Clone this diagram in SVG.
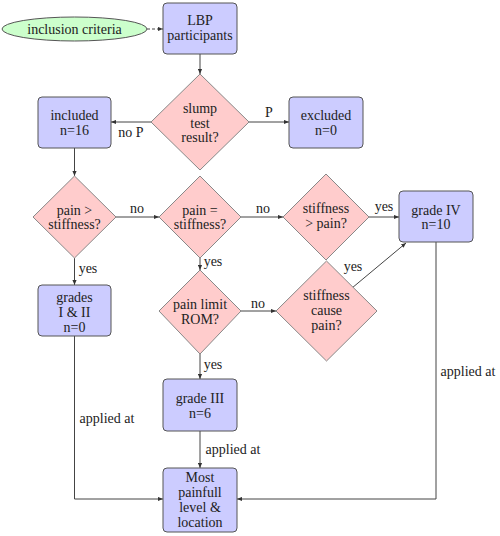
<svg xmlns="http://www.w3.org/2000/svg" width="500" height="536" viewBox="0 0 500 536">
<defs>
<marker id="arr" viewBox="0 0 6 6" refX="6" refY="3" markerWidth="5" markerHeight="5" orient="auto" markerUnits="userSpaceOnUse">
<path d="M0,0.5 L6,3 L0,5.5 z" fill="#333"/>
</marker>
</defs>
<style>
text{font-family:'Liberation Serif','DejaVu Serif',serif;font-size:14px;fill:#222;text-anchor:middle}
.box{fill:#ccccff;stroke:#555;stroke-width:1}
.dia{fill:#ffcccc;stroke:#888;stroke-width:1}
.ell{fill:#ccffcc;stroke:#555;stroke-width:1}
.ar{fill:none;stroke:#444;stroke-width:1;marker-end:url(#arr)}
</style>
<g font-family="Liberation Serif, DejaVu Serif, serif">
<g id="connectors">
<path class="ar" d="M147,29 L163,29" stroke-dasharray="3,2"/>
<path class="ar" d="M200,54 L200,74"/>
<path class="ar" d="M151,122 L111,122"/>
<path class="ar" d="M249,122 L289,122"/>
<path class="ar" d="M74.5,148 L74.5,176"/>
<path class="ar" d="M116,217 L159,217"/>
<path class="ar" d="M241,217 L283,217"/>
<path class="ar" d="M369,217 L399,217"/>
<path class="ar" d="M200,258 L200,270"/>
<path class="ar" d="M241,311 L276,311"/>
<path class="ar" d="M352,288 L406,243"/>
<path class="ar" d="M74.5,258 L74.5,285"/>
<path class="ar" d="M200,354 L200,379"/>
<path class="ar" d="M200,431 L200,468"/>
<path class="ar" d="M74.5,336 L74.5,499 L163,499"/>
<path class="ar" d="M436,242 L436,499 L237,499"/>
<text x="131" y="137">no P</text>
<text x="269" y="117">P</text>
<text x="137" y="213">no</text>
<text x="263" y="213">no</text>
<text x="384" y="211">yes</text>
<text x="88" y="273">yes</text>
<text x="213" y="266">yes</text>
<text x="258" y="308">no</text>
<text x="353" y="271">yes</text>
<text x="213" y="369">yes</text>
<text x="107" y="423">applied at</text>
<text x="233" y="454">applied at</text>
<text x="468" y="376">applied at</text>
</g>
<g id="inclusion">
<ellipse class="ell" cx="74.5" cy="29" rx="72.5" ry="12"/>
<text x="74.5" y="34">inclusion criteria</text>
</g>
<g id="lbp">
<rect class="box" x="163" y="3" width="74" height="51" rx="4"/>
<text x="200" y="25">LBP</text>
<text x="200" y="40">participants</text>
</g>
<g id="slump">
<polygon class="dia" points="200,74 249,122 200,170 151,122"/>
<text x="200" y="113">slump</text>
<text x="200" y="128">test</text>
<text x="200" y="142">result?</text>
</g>
<g id="included">
<rect class="box" x="38" y="97" width="73" height="51" rx="4"/>
<text x="74.5" y="120">included</text>
<text x="74.5" y="135">n=16</text>
</g>
<g id="excluded">
<rect class="box" x="289" y="97" width="74" height="51" rx="4"/>
<text x="326" y="120">excluded</text>
<text x="326" y="135">n=0</text>
</g>
<g id="pain-gt">
<polygon class="dia" points="74.5,176 116,217 74.5,258 33,217"/>
<text x="74.5" y="215">pain &gt;</text>
<text x="74.5" y="229">stiffness?</text>
</g>
<g id="pain-eq">
<polygon class="dia" points="200,176 241,217 200,258 159,217"/>
<text x="200" y="215">pain =</text>
<text x="200" y="229">stiffness?</text>
</g>
<g id="stiff-gt">
<polygon class="dia" points="326,174 369,217 326,260 283,217"/>
<text x="326" y="213">stiffness</text>
<text x="326" y="228">&gt; pain?</text>
</g>
<g id="grade4">
<rect class="box" x="399" y="191" width="74" height="51" rx="4"/>
<text x="436" y="215">grade IV</text>
<text x="436" y="229">n=10</text>
</g>
<g id="pain-limit">
<polygon class="dia" points="200,270 241,311 200,354 159,311"/>
<text x="200" y="309">pain limit</text>
<text x="200" y="324">ROM?</text>
</g>
<g id="stiff-cause">
<polygon class="dia" points="326.5,261 377,311 326.5,361 276,311"/>
<text x="326.5" y="300">stiffness</text>
<text x="326.5" y="315">cause</text>
<text x="326.5" y="330">pain?</text>
</g>
<g id="grades12">
<rect class="box" x="38" y="285" width="73" height="51" rx="4"/>
<text x="74.5" y="302">grades</text>
<text x="74.5" y="317">I &amp; II</text>
<text x="74.5" y="332">n=0</text>
</g>
<g id="grade3">
<rect class="box" x="163" y="379" width="74" height="52" rx="4"/>
<text x="200" y="403">grade III</text>
<text x="200" y="418">n=6</text>
</g>
<g id="most">
<rect class="box" x="163" y="468" width="74" height="64" rx="4"/>
<text x="200" y="482">Most</text>
<text x="200" y="497">painfull</text>
<text x="200" y="512">level &amp;</text>
<text x="200" y="527">location</text>
</g>
</g>
</svg>
